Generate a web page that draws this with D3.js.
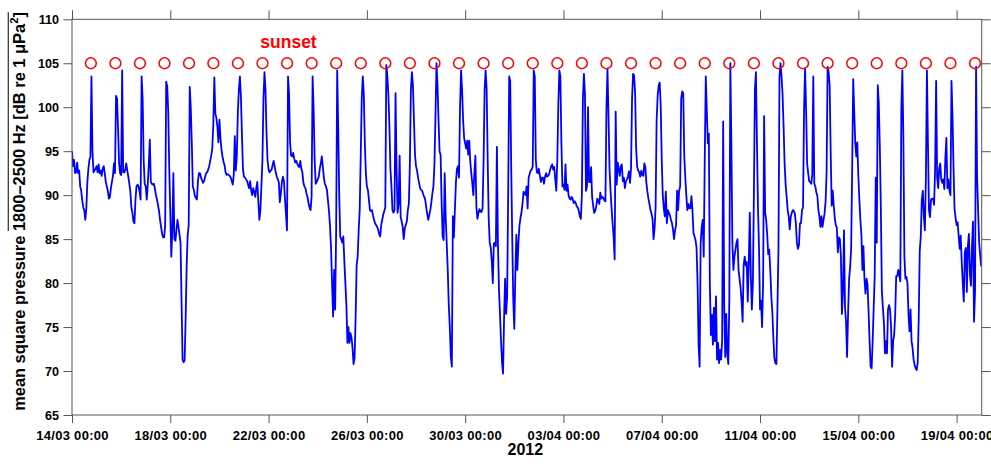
<!DOCTYPE html>
<html>
<head>
<meta charset="utf-8">
<script src="https://cdn.jsdelivr.net/npm/d3@7"></script>
<style>
  html, body { margin: 0; padding: 0; background: #fff; }
  svg { display: block; font-family: "Liberation Sans", Arial, Helvetica, sans-serif; }
</style>
</head>
<body>
<svg id="chart" width="991" height="464"></svg>
<script>
// Hourly mean square pressure, 1800–2500 Hz band (dB re 1 μPa²), first value at 14/03/2012 00:00.
// One row per day.
const seriesStart = "2012-03-14T00:00";
const level = [
  95, 93.3, 94, 92.5, 92.6, 93.7, 92.5, 92.8, 91, 90.5, 89.4, 88.6, 88.3, 87.2, 88.5, 91.5, 93, 94, 94.4, 103.5, 95, 92.6, 92.8, 93,
  93.3, 92.6, 93.5, 92.5, 92.8, 92.2, 93, 93.3, 92.5, 91.5, 91, 90.5, 89.6, 89.8, 90.8, 91.5, 92.2, 93.6, 92.5, 101.3, 101, 97.5, 93.6, 92.5,
  92.3, 104.2, 92.6, 92.6, 92.9, 93.6, 92.8, 92.1, 91.3, 90.4, 88.6, 88, 87, 86.8, 89.5, 91, 91.2, 91, 90.4, 89.5, 103.5, 101, 94, 91.3,
  91, 89.5, 91.2, 93.5, 96.3, 91.5, 91.3, 91.2, 91.3, 90.7, 90, 89.5, 88.9, 88.2, 87.2, 86.4, 85.6, 85.2, 85.2, 86.5, 102.9, 102.4, 99.5, 93,
  88, 83, 86, 92.5, 85, 84.8, 86, 87.2, 86.4, 85.5, 84.6, 78, 71.3, 71, 71.2, 76, 82, 85.5, 86.6, 102.3, 100, 96, 91, 90.6,
  89.9, 89.7, 89.5, 91.6, 92.5, 92.5, 92, 91.7, 91.4, 91.6, 92.1, 92.5, 92.6, 92.9, 93.3, 93.9, 94.5, 95.3, 98, 103.4, 99.3, 98.8, 97.8, 96,
  98.6, 96.5, 95.2, 94.4, 93.8, 93.4, 92.6, 92.3, 92.4, 92.3, 92.2, 92, 91.6, 91.2, 92.3, 96.7, 92.8, 94.5, 99.5, 102, 103.5, 101.2, 96.8, 92.9,
  92.1, 92, 91.8, 91.6, 91.2, 90.8, 91.6, 90.5, 90, 90.8, 90.4, 89.8, 90.8, 91.5, 89.3, 87.2, 88.3, 91, 94, 101, 104, 102, 97, 94,
  92.9, 92.6, 92.8, 92.9, 93.5, 93.9, 93.2, 92.6, 92.1, 91.8, 91.5, 89.2, 90.2, 91.5, 92.1, 91.6, 89.6, 87.8, 86, 103.5, 101.5, 96, 94.5, 94.4,
  94.8, 94.2, 93.7, 93.9, 93.6, 93.3, 93.2, 93.9, 93, 92.6, 91.4, 91, 90.8, 90.2, 89.8, 89.1, 88.6, 88.3, 89.8, 103.5, 99.8, 94, 91.3, 91.5,
  91.8, 92.1, 93, 93.6, 94.4, 93.2, 92, 91.3, 91, 90.6, 89.4, 88.2, 86.5, 84, 80, 76.2, 81.5, 77, 86, 104.2, 97.8, 90, 85.3, 85,
  84.6, 85.3, 82.5, 80, 77.5, 73.2, 75, 73.2, 74.3, 73.8, 72.6, 70.8, 71.5, 76, 82, 83, 86, 88.3, 94.5, 101, 103.5, 101.5, 96, 92.5,
  91, 90.6, 89.5, 88.3, 88.2, 88.3, 87.7, 87.2, 86.8, 86.6, 86.4, 86.1, 85.6, 85.3, 86.6, 87.2, 87.8, 88.2, 88.6, 104.8, 103.6, 101.4, 98, 93,
  91, 88.3, 88, 88.3, 101.6, 93, 88, 89, 94.5, 87.5, 87, 86.4, 85, 86.2, 86.6, 87, 88.3, 89, 93.5, 102, 104, 102.5, 98.5, 94.6,
  93.3, 92.8, 92, 91.4, 90.8, 90.6, 90.5, 90.1, 89.8, 89.5, 88.6, 87.8, 87.2, 87.8, 88.3, 89.2, 90.2, 91, 93.5, 99, 105, 102.5, 98.5, 95,
  94.6, 89.2, 85.3, 84.9, 92.5, 87.5, 84.5, 81.5, 77.5, 75, 71.6, 70.5, 87.6, 85.2, 88.5, 91.5, 93, 93.3, 92, 100, 104.2, 102, 98.5, 96.5,
  95.9, 95.3, 96.2, 94.6, 96.2, 93.8, 92.5, 91.3, 90, 92.5, 94.5, 88.6, 87.3, 88, 88.4, 88.1, 88.1, 88.5, 94, 102, 104.2, 102, 94, 87.3,
  84.6, 84, 82.5, 80, 84.5, 84.6, 84.2, 95.5, 84.6, 79.4, 76.5, 73.5, 71, 69.7, 76, 80.5, 76.5, 78.5, 90, 103.5, 103, 93, 85, 78,
  74.8, 81, 85.5, 81.5, 84.5, 86.5, 87.4, 88, 89, 90.4, 90.2, 90, 91, 88.5, 92, 92.4, 92.8, 92.9, 93.3, 104.2, 103.5, 94, 92.6, 92.5,
  93, 92.2, 91.5, 92, 92, 91.3, 92.1, 92.5, 92.1, 92.2, 92.4, 92.9, 93.3, 93.5, 92.9, 93.2, 91.8, 90.5, 94, 100.4, 104.2, 103.5, 95.9, 91,
  91.2, 90.6, 93.5, 90.5, 91.2, 90, 89.6, 89.5, 89.8, 89.6, 89.1, 89.3, 89.1, 88.7, 88.6, 88.2, 87.6, 87.3, 90, 101, 103.8, 101.5, 90.5, 91,
  100, 91.5, 91.5, 93.2, 89.8, 88.8, 88, 88.2, 88.7, 89.6, 89.4, 89, 90.3, 89.6, 89.8, 89.7, 89.4, 89.3, 100, 104.4, 99, 93, 90.5, 88.5,
  86.8, 85.3, 82.7, 99.5, 91.2, 93.7, 93, 92.2, 93.3, 93.5, 91.6, 92, 90.8, 91.6, 91.8, 92.1, 92.7, 91.4, 93, 101, 103.8, 103.6, 101.6, 95.3,
  93.2, 92.8, 92.6, 92.1, 92.8, 92.3, 92.2, 93.6, 93.2, 91.4, 90.4, 89.6, 89, 88.3, 87.9, 87.3, 85, 86.2, 88.6, 98.5, 101.3, 102.5, 102.8, 100.2,
  94, 90, 88.5, 87.6, 90.4, 86.8, 88.3, 88, 87.7, 87.2, 86.8, 86.1, 85, 86, 86.6, 90.5, 88.3, 90.5, 91, 101, 101.8, 101.6, 94.5, 92,
  90, 88.3, 89, 88.5, 88.5, 89.9, 88.3, 85.7, 85.3, 84.9, 84, 80, 73, 70.5, 84.5, 86.4, 87.2, 83, 94, 103.5, 99.7, 95.9, 97, 79.8,
  74.1, 76.4, 73, 77.2, 73.4, 78.5, 71.3, 73.2, 70.9, 72.4, 71.3, 73.4, 98.4, 77.5, 71.6, 76.5, 72, 70.8, 78, 105, 95.9, 84.6, 81.5, 83,
  83.8, 84.6, 85, 81.5, 80.5, 79.5, 77.9, 75.6, 82, 83, 82, 82.4, 77.9, 82.3, 88, 81, 77, 80, 90, 102, 104, 96, 88.6, 84,
  77, 78, 75, 80, 99, 88, 87.2, 85.5, 83.3, 83.8, 81.5, 78.5, 76.8, 73.8, 71.5, 70.9, 70.8, 77.2, 83.9, 103.5, 105, 103.5, 101.5, 97.8,
  93.6, 91.2, 89.8, 88.3, 87.6, 86.1, 87.5, 88, 88.3, 88.2, 87.9, 86.8, 84.6, 83.9, 84.3, 86.8, 86.8, 88.3, 88.6, 99.7, 104.4, 99.7, 93.6, 92.5,
  91.6, 91.5, 91.3, 92.3, 103.5, 91.3, 91, 90.3, 89.9, 88.3, 87.6, 86.4, 87.6, 86.4, 87.2, 87.9, 89.2, 92.5, 104.6, 104, 102.5, 95, 88.8, 90.5,
  88.8, 87.4, 86.6, 86.3, 83.5, 85.2, 85, 83, 76.5, 79, 86, 77.2, 75.6, 71.6, 76.5, 80.5, 81.8, 84, 93, 103.2, 99.5, 96, 94.4, 96,
  92.2, 89.5, 87.2, 85.5, 81.5, 84.2, 80.5, 78.8, 80.5, 79.8, 76.8, 73.4, 70.5, 70.3, 73.4, 77.2, 80.8, 92, 84.6, 102.5, 100.5, 95.5, 88.5, 79,
  77.2, 75.5, 72, 73.4, 72, 77, 77.5, 77, 75, 70.5, 73.4, 74.1, 76.4, 80.8, 80.8, 81.5, 80.9, 80.2, 99.7, 104.2, 96.5, 83, 80.5, 80.7,
  80, 76.5, 74.5, 77, 73.4, 72.6, 71.3, 70.7, 70.3, 70.1, 71, 76, 83.7, 85.3, 89.5, 90.5, 87.6, 86, 92, 104.2, 96, 88.3, 87.5, 89.5,
  89.6, 89.6, 88.9, 93, 103, 92, 90.8, 93, 93.6, 91.8, 91.4, 91.8, 90.7, 94.2, 96.5, 90.8, 91.8, 90.5, 90, 103, 99, 93, 88.4, 87.4,
  86.6, 86.9, 85.4, 83.9, 85.4, 82.4, 80, 77.9, 83.5, 84, 79, 84.2, 85.6, 81, 79.7, 84, 87, 75.6, 79, 104.6, 92.1, 88.3, 84.6, 83.2,
  81.9
];

// Sunset time of each day
const sunsetTimes = [
  "2012-03-14T18:25", "2012-03-15T18:24", "2012-03-16T18:22", "2012-03-17T18:20", "2012-03-18T18:18",
  "2012-03-19T18:05", "2012-03-20T18:05", "2012-03-21T18:04", "2012-03-22T18:04", "2012-03-23T18:03",
  "2012-03-24T18:03", "2012-03-25T18:02", "2012-03-26T18:02", "2012-03-27T18:01", "2012-03-28T18:01",
  "2012-03-29T18:00", "2012-03-30T18:00", "2012-03-31T18:00", "2012-04-01T18:00", "2012-04-02T18:00",
  "2012-04-03T18:00", "2012-04-04T18:00", "2012-04-05T18:00", "2012-04-06T18:00", "2012-04-07T18:00",
  "2012-04-08T18:00", "2012-04-09T18:00", "2012-04-10T18:00", "2012-04-11T18:00", "2012-04-12T18:00",
  "2012-04-13T18:00", "2012-04-14T18:00", "2012-04-15T18:00", "2012-04-16T18:00", "2012-04-17T18:00",
  "2012-04-18T18:00", "2012-04-19T18:00"
];
const sunsetLevel = 105;

const axisStart = "2012-03-14T00:00";
const axisEnd = "2012-04-20T00:30";
const xTickDates = [
  "2012-03-14T00:00", "2012-03-18T00:00", "2012-03-22T00:00", "2012-03-26T00:00", "2012-03-30T00:00",
  "2012-04-03T00:00", "2012-04-07T00:00", "2012-04-11T00:00", "2012-04-15T00:00", "2012-04-19T00:00"
];
const yDomain = [65, 110];
const yTickValues = [65, 70, 75, 80, 85, 90, 95, 100, 105, 110];
const xTitle = "2012";
const sunsetLabel = "sunset";

const parseTime = d3.utcParse("%Y-%m-%dT%H:%M");
const t0 = parseTime(seriesStart);
const points = level.map((v, i) => ({ t: d3.utcHour.offset(t0, i), v }));

const plot = { left: 72, right: 981.7, top: 19.3, bottom: 415 };
const frameColor = "#555";

const svg = d3.select("#chart");

const x = d3.scaleUtc()
  .domain([parseTime(axisStart), parseTime(axisEnd)])
  .range([plot.left, plot.right]);
const y = d3.scaleLinear().domain(yDomain).range([plot.bottom, plot.top]);

svg.append("defs").append("clipPath").attr("id", "plotClip")
  .append("rect")
  .attr("x", plot.left).attr("y", plot.top)
  .attr("width", plot.right - plot.left).attr("height", plot.bottom - plot.top);

// Axes (ticks point outward on all four sides)
function styleAxis(g, fontSize) {
  g.select(".domain").remove();
  g.selectAll(".tick line").attr("stroke", frameColor).attr("stroke-width", 1);
  g.selectAll(".tick text")
    .attr("fill", "#000")
    .style("font-family", '"Liberation Sans", Arial, Helvetica, sans-serif')
    .style("font-weight", "bold")
    .style("font-size", fontSize + "px");
}

const xTicks = xTickDates.map(parseTime);

svg.append("g")
  .attr("transform", `translate(0,${plot.bottom})`)
  .call(d3.axisBottom(x).tickValues(xTicks).tickFormat(d3.utcFormat("%d/%m %H:%M")).tickSize(8).tickPadding(8))
  .call(g => styleAxis(g, 13))
  .call(g => g.selectAll(".tick text").style("letter-spacing", "0.3px"));

svg.append("g")
  .attr("transform", `translate(0,${plot.top})`)
  .call(d3.axisTop(x).tickValues(xTicks).tickFormat("").tickSize(9))
  .call(g => styleAxis(g, 12));

svg.append("g")
  .attr("transform", `translate(${plot.left},0)`)
  .call(d3.axisLeft(y).tickValues(yTickValues).tickFormat(d3.format("d")).tickSize(8.5).tickPadding(4.5))
  .call(g => styleAxis(g, 12.6));

svg.append("g")
  .attr("transform", `translate(${plot.right},0)`)
  .call(d3.axisRight(y).tickValues(yTickValues).tickFormat("").tickSize(9))
  .call(g => styleAxis(g, 12));

// Data line
const line = d3.line().x(d => x(d.t)).y(d => y(d.v));
svg.append("path")
  .datum(points)
  .attr("clip-path", "url(#plotClip)")
  .attr("d", line)
  .attr("fill", "none")
  .attr("stroke", "#0000ff")
  .attr("stroke-width", 1.8)
  .attr("stroke-linejoin", "round");

// Sunset markers
svg.append("g")
  .selectAll("circle")
  .data(sunsetTimes.map(parseTime))
  .join("circle")
  .attr("cx", d => x(d))
  .attr("cy", y(sunsetLevel))
  .attr("r", 5.4)
  .attr("fill", "none")
  .attr("stroke", "#ff0000")
  .attr("stroke-width", 1.5);

svg.append("text")
  .attr("x", 288.5).attr("y", 47.7)
  .attr("text-anchor", "middle")
  .attr("fill", "#ff0000")
  .style("font-weight", "bold")
  .style("font-size", "17.5px")
  .text(sunsetLabel);

// Frame
svg.append("rect")
  .attr("x", plot.left).attr("y", plot.top)
  .attr("width", plot.right - plot.left).attr("height", plot.bottom - plot.top)
  .attr("fill", "none").attr("stroke", frameColor).attr("stroke-width", 1);

// X axis title
svg.append("text")
  .attr("x", (plot.left + plot.right) / 2 - 1.5).attr("y", 455)
  .attr("text-anchor", "middle")
  .attr("fill", "#000")
  .style("font-weight", "bold")
  .style("font-size", "16px")
  .text(xTitle);

// Y axis title, rotated, with an overline over the band part
const yTitleG = svg.append("g").attr("transform", "translate(25,211.5) rotate(-90)");
const yTitle = yTitleG.append("text")
  .attr("x", 0).attr("y", 0)
  .attr("text-anchor", "middle")
  .attr("fill", "#000")
  .style("font-weight", "bold")
  .style("font-size", "15.5px");
const titleMain = "mean square pressure 1800–2500 Hz [dB re 1 μPa";
yTitle.append("tspan").text(titleMain);
yTitle.append("tspan").attr("dy", -7).style("font-size", "10.5px").text("2");
yTitle.append("tspan").attr("dy", 7).text("]");

// fit the title to the plot height
const targetLen = 399;
let fs = 15.5;
const len = yTitle.node().getComputedTextLength();
fs = fs * targetLen / len;
yTitle.style("font-size", fs + "px");
yTitle.select("tspan:nth-child(2)").style("font-size", (fs * 0.68) + "px").attr("dy", -fs * 0.45);
yTitle.select("tspan:nth-child(3)").attr("dy", fs * 0.45);

const node = yTitle.node();
const bandStart = titleMain.indexOf("1800");
const p0 = node.getStartPositionOfChar(bandStart);
const nChars = node.getNumberOfChars();
const pEnd = node.getEndPositionOfChar(nChars - 1);
yTitleG.append("line")
  .attr("x1", p0.x).attr("x2", pEnd.x)
  .attr("y1", -fs * 1.02).attr("y2", -fs * 1.02)
  .attr("stroke", "#000").attr("stroke-width", 1);
</script>
</body>
</html>
